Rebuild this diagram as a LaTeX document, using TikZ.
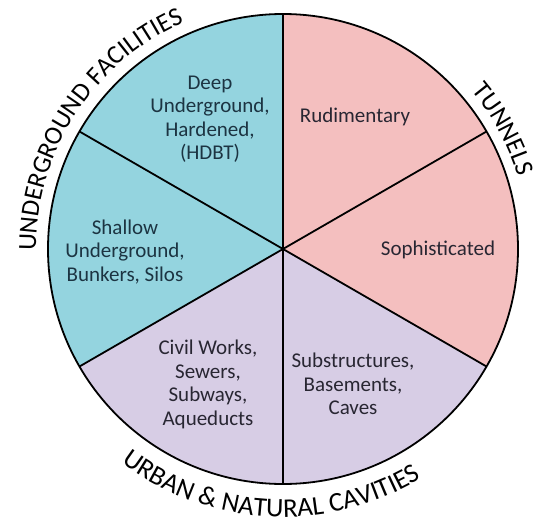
\documentclass[tikz,border=0pt]{standalone}
\usepackage{fontspec}
\setmainfont{Carlito}
\usetikzlibrary{decorations.text}
\definecolor{ufblue}{RGB}{148,212,223}
\definecolor{tunpink}{RGB}{244,191,191}
\definecolor{cavpurple}{RGB}{215,205,229}
\definecolor{txtblue}{RGB}{28,52,66}
\definecolor{txtdark}{RGB}{40,38,50}
\newcommand\rimfont{\fontsize{26}{30}\selectfont}
\newcommand\rimfontb{\fontsize{27}{30}\selectfont}
\begin{document}
\begin{tikzpicture}[x=1pt,y=1pt,
  inner/.style={align=center, font=\fontsize{21}{23.5}\selectfont, inner sep=0pt, text=txtdark},
  sepline/.style={line width=1.8pt, black},
  rim/.style={decorate, decoration={text along path, text align=center}}]
\useasboundingbox (-283,-274) rectangle (253,249);
\def\R{235}
\coordinate (c) at (0,0);
\fill[ufblue] (c) -- (90:\R) arc[start angle=90,end angle=210,radius=\R] -- cycle;
\fill[tunpink] (c) -- (-30:\R) arc[start angle=-30,end angle=90,radius=\R] -- cycle;
\fill[cavpurple] (c) -- (210:\R) arc[start angle=210,end angle=330,radius=\R] -- cycle;
\foreach \a in {30,90,150,210,270,330} {
  \coordinate (e\a) at (\a:\R);
  \draw[sepline] (c) -- (e\a);
}
\draw[sepline] (c) circle[radius=\R];
\node[inner, text=txtblue] (deep) at (-73,130) {Deep\\Underground,\\Hardened,\\(HDBT)};
\node[inner] (rud) at (72,132) {Rudimentary};
\node[inner] (soph) at (155,-1) {Sophisticated};
\node[inner, text=txtblue] (shallow) at (-158,-3) {Shallow\\Underground,\\Bunkers, Silos};
\node[inner] (civil) at (-75,-135.5) {Civil Works,\\Sewers,\\Subways,\\Aqueducts};
\node[inner] (sub) at (70,-135) {Substructures,\\Basements,\\Caves};
\path[rim, decoration={text={|\rimfont|UNDERGROUND FACILITIES}}]
  (180:247) arc[start angle=180, end angle=114, radius=247];
\path[rim, decoration={text={|\rimfont|TUNNELS}}]
  (41:246) arc[start angle=41, end angle=16, radius=246];
\path[rim, decoration={text={|\rimfontb|URBAN {\&} NATURAL CAVITIES}}]
  (232:268) arc[start angle=232, end angle=302, radius=268];
\end{tikzpicture}
\end{document}
